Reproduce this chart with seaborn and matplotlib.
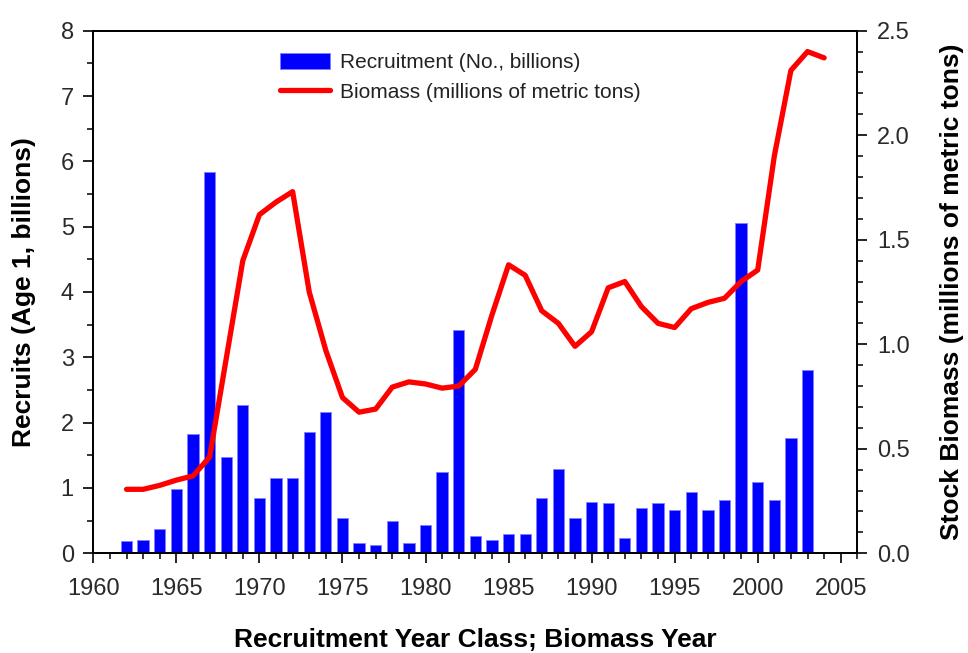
import numpy as np
import pandas as pd
import matplotlib
matplotlib.use("Agg")
import matplotlib.pyplot as plt
from matplotlib.ticker import MultipleLocator, FormatStrFormatter
import seaborn as sns

# ---- data ----
rec_years = list(range(1962, 2004))
recruits = [0.19, 0.21, 0.37, 0.99, 1.82, 5.84, 1.47, 2.27, 0.84, 1.16,
            1.16, 1.85, 2.17, 0.54, 0.16, 0.12, 0.49, 0.16, 0.44, 1.24,
            3.42, 0.27, 0.21, 0.29, 0.29, 0.84, 1.29, 0.54, 0.79, 0.77,
            0.24, 0.69, 0.77, 0.67, 0.94, 0.67, 0.82, 5.05, 1.09, 0.82,
            1.77, 2.80]
bio_years = list(range(1962, 2005))
biomass = [0.306, 0.306, 0.325, 0.35, 0.37, 0.46, 0.93, 1.40, 1.62, 1.68,
           1.73, 1.25, 0.97, 0.745, 0.675, 0.69, 0.795, 0.82, 0.81, 0.79,
           0.80, 0.88, 1.14, 1.38, 1.33, 1.16, 1.10, 0.99, 1.06, 1.27,
           1.30, 1.18, 1.10, 1.08, 1.17, 1.20, 1.22, 1.30, 1.355, 1.90,
           2.31, 2.40, 2.37]
left_ticks = [0, 1, 2, 3, 4, 5, 6, 7, 8]
right_ticks = [0.0, 0.5, 1.0, 1.5, 2.0, 2.5]
x_ticks = [1960, 1965, 1970, 1975, 1980, 1985, 1990, 1995, 2000, 2005]

rec_df = pd.DataFrame({"year": rec_years, "recruits": recruits})
bio_df = pd.DataFrame({"year": bio_years, "biomass": biomass})

sns.set_theme(style="ticks")
plt.rcParams["font.family"] = ["Liberation Sans", "DejaVu Sans"]

fig = plt.figure(figsize=(9.68, 6.53), dpi=100)
ax = fig.add_axes([0.0964, 0.1527, 0.7893, 0.8003])

sns.barplot(data=rec_df, x="year", y="recruits", native_scale=True,
            width=0.68, color="#0000ff", saturation=1, errorbar=None,
            edgecolor="#8080ff", linewidth=0.6, ax=ax)

ax2 = ax.twinx()
sns.lineplot(data=bio_df, x="year", y="biomass", color="#ff0000",
             linewidth=3.8, ax=ax2)

ax.set_xlim(1960, 2006)
ax.set_ylim(0, 8)
ax2.set_ylim(0, 2.5)

ax.set_xticks(x_ticks)
ax.xaxis.set_minor_locator(MultipleLocator(1))
ax.set_yticks(left_ticks)
ax.yaxis.set_minor_locator(MultipleLocator(0.5))
ax2.set_yticks(right_ticks)
ax2.yaxis.set_minor_locator(MultipleLocator(0.1))
ax2.yaxis.set_major_formatter(FormatStrFormatter("%.1f"))

for a in (ax, ax2):
    for s in a.spines.values():
        s.set_color("black")
        s.set_linewidth(1.3)
    a.tick_params(which="major", direction="out", length=7, width=1.2,
                  color="black", labelsize=17, labelcolor="#2a2a2a", pad=7)
    a.tick_params(which="minor", direction="out", length=4.5, width=1.1,
                  color="black")
ax.tick_params(axis="x", pad=11)
ax.tick_params(axis="x", which="both", top=False)
ax.tick_params(axis="y", which="both", right=False)
ax2.tick_params(axis="y", which="both", left=False, right=True)

ax.set_xlabel("Recruitment Year Class; Biomass Year", fontsize=19,
              fontweight="bold", labelpad=20, color="black")
ax.set_ylabel("Recruits (Age 1, billions)", fontsize=19,
              fontweight="bold", labelpad=18, color="black")
ax2.set_ylabel("Stock Biomass (millions of metric tons)", fontsize=19,
               fontweight="bold", labelpad=22, color="black")

bar_handle = ax.patches[0]
line_handle = ax2.lines[0]
leg = ax.legend([bar_handle, line_handle],
                ["Recruitment (No., billions)",
                 "Biomass (millions of metric tons)"],
                loc="upper left", bbox_to_anchor=(0.244, 0.957),
                frameon=False, fontsize=15, handlelength=2.4,
                handleheight=0.75, handletextpad=0.48, labelspacing=0.5,
                borderpad=0, borderaxespad=0)
for t in leg.get_texts():
    t.set_color("#222222")

fig.savefig("out.png", dpi=100)
